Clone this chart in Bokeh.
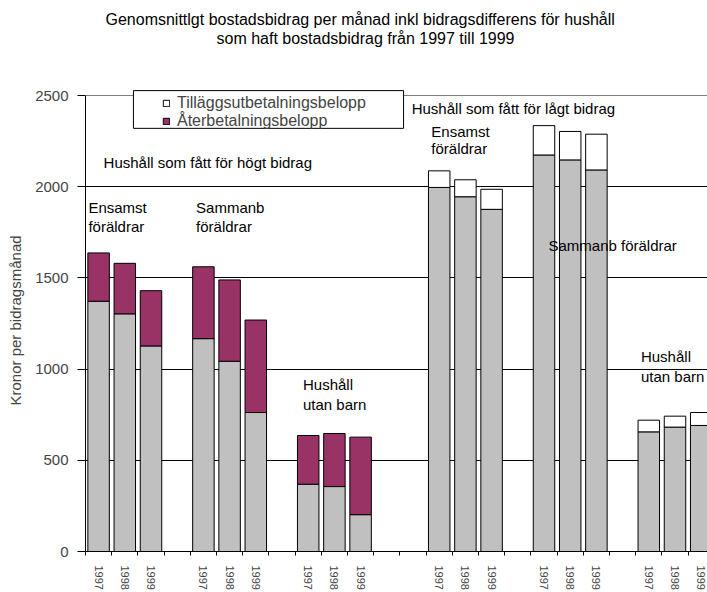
from bokeh.plotting import figure
from bokeh.models import (ColumnDataSource, FixedTicker, Range1d, Label, Title, Span,
                          BoxAnnotation, Legend, LegendItem)
from bokeh.embed import file_html
from bokeh.resources import INLINE

FONT = "Liberation Sans"

# ---------------- data ----------------
years = ["1997", "1998", "1999"]
groups = ["Ensamst föräldrar (för högt)", "Sammanb föräldrar (för högt)", "Hushåll utan barn (för högt)",
          "Ensamst föräldrar (för lågt)", "Sammanb föräldrar (för lågt)", "Hushåll utan barn (för lågt)"]
bostadsbidrag = [1372, 1303, 1127, 1167, 1043, 762, 369, 356, 202,
                 1996, 1945, 1876, 2174, 2147, 2092, 656, 682, 691]
aterbetalning = [265, 277, 303, 394, 446, 507, 267, 291, 425,
                 0, 0, 0, 0, 0, 0, 0, 0, 0]
tillagg = [0, 0, 0, 0, 0, 0, 0, 0, 0,
           91, 93, 110, 161, 156, 196, 64, 60, 71]
y_ticks = [0, 500, 1000, 1500, 2000, 2500]

title1 = "Genomsnittlgt bostadsbidrag per månad inkl bidragsdifferens för hushåll"
title2 = "som haft bostadsbidrag från 1997 till 1999"
y_label = "Kronor per bidragsmånad"
legend_labels = ["Tilläggsutbetalningsbelopp", "Återbetalningsbelopp"]

# ---------------- layout of category slots ----------------
blank_after = [1, 1, 2, 1, 1, 0]   # empty slots after each group
pos = []
s = 0
for g in range(len(groups)):
    for k in range(len(years)):
        pos.append(s + k)
    s += len(years) + blank_after[g]
n_slots = s
boundaries = [i - 0.5 for i in range(n_slots + 1)]
year_labels = [years[i % 3] for i in range(len(pos))]

base_src = ColumnDataSource(dict(x=pos, top=bostadsbidrag, year=year_labels))
at_idx = [i for i, v in enumerate(aterbetalning) if v > 0]
at_src = ColumnDataSource(dict(x=[pos[i] for i in at_idx],
                               bottom=[bostadsbidrag[i] for i in at_idx],
                               top=[bostadsbidrag[i] + aterbetalning[i] for i in at_idx]))
ti_idx = [i for i, v in enumerate(tillagg) if v > 0]
ti_src = ColumnDataSource(dict(x=[pos[i] for i in ti_idx],
                               bottom=[bostadsbidrag[i] for i in ti_idx],
                               top=[bostadsbidrag[i] + tillagg[i] for i in ti_idx]))

# ---------------- figure ----------------
W, H = 707, 592
BL, BT, BB = 85, 89, 39
X_END = -0.5 + (W - BL) / 26.2
Y_TOP = 2533

p = figure(width=W, height=H, output_backend="svg", toolbar_location=None, title=None,
           x_range=Range1d(-0.5, X_END), y_range=Range1d(0, Y_TOP),
           min_border_left=BL, min_border_right=0, min_border_top=BT, min_border_bottom=BB)
p.outline_line_color = None
p.background_fill_color = "white"
p.border_fill_color = "white"

# chart title: a blank spacer next to the plot, then line 2, then line 1 on top
p.add_layout(Title(text=" ", text_font=FONT, text_font_size="16px", standoff=24), "above")
p.add_layout(Title(text=title2, align="left", offset=131, text_font=FONT, text_font_size="16px",
                   text_font_style="normal", text_color="black", standoff=0), "above")
p.add_layout(Title(text=title1, align="left", offset=20, text_font=FONT, text_font_size="16px",
                   text_font_style="normal", text_color="black", standoff=0), "above")

# grid
p.xgrid.grid_line_color = None
p.ygrid.ticker = FixedTicker(ticks=y_ticks)
p.ygrid.grid_line_color = "black"
p.ygrid.grid_line_width = 1
p.add_layout(Span(location=y_ticks[-1], dimension="width", line_color="#808080", line_width=1))

# bars
BW = 0.82
p.vbar(x="x", width=BW, bottom=0, top="top", source=base_src,
       fill_color="#C0C0C0", line_color="black", line_width=1)
r_at = p.vbar(x="x", width=BW, bottom="bottom", top="top", source=at_src,
              fill_color="#993366", line_color="black", line_width=1)
r_ti = p.vbar(x="x", width=BW, bottom="bottom", top="top", source=ti_src,
              fill_color="white", line_color="black", line_width=1)

# axes
yax = p.yaxis[0]
yax.ticker = FixedTicker(ticks=y_ticks)
yax.bounds = (0, y_ticks[-1])
yax.axis_label = y_label
yax.axis_label_text_font = FONT
yax.axis_label_text_font_size = "15px"
yax.axis_label_text_font_style = "normal"
yax.axis_label_standoff = 8
yax.major_label_text_font = FONT
yax.major_label_text_font_size = "15px"
yax.major_label_standoff = 9
yax.major_tick_out = 8
yax.major_tick_in = 0
yax.minor_tick_line_color = None
yax.axis_line_color = "black"
yax.major_tick_line_color = "black"

xax = p.xaxis[0]
xax.ticker = FixedTicker(ticks=pos, minor_ticks=boundaries)
xax.major_label_overrides = {pos[i]: year_labels[i] for i in range(len(pos))}
xax.major_label_orientation = "vertical"
xax.major_label_text_font = FONT
xax.major_label_text_font_size = "11px"
xax.major_label_standoff = 10
xax.major_tick_line_color = None
xax.major_tick_out = 4
xax.major_tick_in = 0
xax.minor_tick_line_color = "black"
xax.minor_tick_out = 4
xax.minor_tick_in = 0
xax.axis_line_color = "black"

# group annotations
annotations = [
    ("Hushåll som fått för högt bidrag", 0.19, 2134),
    ("Ensamst", -0.39, 1888), ("föräldrar", -0.39, 1780),
    ("Sammanb", 3.72, 1888), ("föräldrar", 3.72, 1780),
    ("Hushåll", 7.8, 917), ("utan barn", 7.8, 808),
    ("Hushåll som fått för lågt bidrag", 11.95, 2430),
    ("Ensamst", 12.7, 2305), ("föräldrar", 12.7, 2211),
    ("Sammanb föräldrar", 17.17, 1676),
    ("Hushåll", 20.7, 1070), ("utan barn", 20.7, 962),
]
for txt, ax_, ay_ in annotations:
    p.add_layout(Label(x=ax_, y=ay_, text=txt, text_font=FONT, text_font_size="15px",
                       text_baseline="middle", text_align="left", text_color="black"))

# legend box + legend
p.add_layout(BoxAnnotation(left=1.33, right=11.64, bottom=2320, top=2527,
                           fill_color="white", fill_alpha=1.0,
                           line_color="black", line_width=1, line_alpha=1.0))
legend = Legend(items=[LegendItem(label=legend_labels[0], renderers=[r_ti]),
                       LegendItem(label=legend_labels[1], renderers=[r_at])],
                location=(77, 421), orientation="vertical",
                glyph_width=8, glyph_height=8, label_standoff=7, label_height=16,
                spacing=0, padding=0, margin=0,
                label_text_font=FONT, label_text_font_size="16px",
                border_line_color=None, background_fill_alpha=0.0)
p.add_layout(legend)

open("out.html", "w").write(file_html(p, INLINE))
